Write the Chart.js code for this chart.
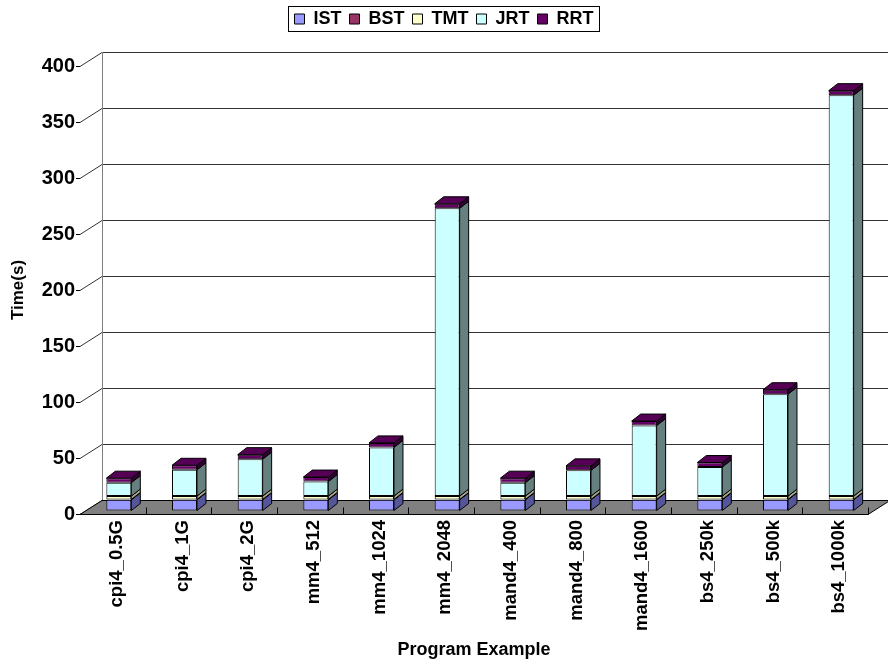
<!DOCTYPE html>
<html>
<head>
<meta charset="utf-8">
<script src="https://cdn.jsdelivr.net/npm/chart.js@4/dist/chart.umd.min.js"></script>
<style>
  html, body { margin: 0; padding: 0; background: #fff; }
  #wrap { width: 888px; height: 662px; }
</style>
</head>
<body>
<div id="wrap"><canvas id="chart"></canvas></div>
<script>
const programs = ['cpi4_0.5G', 'cpi4_1G', 'cpi4_2G', 'mm4_512', 'mm4_1024', 'mm4_2048',
  'mand4_400', 'mand4_800', 'mand4_1600', 'bs4_250k', 'bs4_500k', 'bs4_1000k'];
const istTimes = [10, 10, 10, 10, 10, 10, 10, 10, 10, 10, 10, 10];
const bstTimes = [0.3, 0.3, 0.3, 0.3, 0.3, 0.3, 0.3, 0.3, 0.3, 0.3, 0.3, 0.3];
const tmtTimes = [3, 3, 3, 3, 3, 3, 3, 3, 3, 3, 3, 3];
const jrtTimes = [12, 23.5, 33, 13, 43.5, 257, 12, 23, 63, 26, 91, 358];
const rrtTimes = [4, 4, 4, 4, 4, 4, 4, 4, 4, 4, 4, 4];
const yTicks = [0, 50, 100, 150, 200, 250, 300, 350, 400];

const FONT = '"Liberation Sans", Arial, sans-serif';

// 3d look: wall depth, where the bars sit in it and how deep they are
const depth = { dx: 22, dy: -14 };
const barShift = { dx: 6, dy: -3 };
const barDepth = { dx: 9, dy: -7 };

const series = [
  { label: 'IST', data: istTimes, color: '#9999FF', side: '#55559A' },
  { label: 'BST', data: bstTimes, color: '#993366', side: '#4D1A33' },
  { label: 'TMT', data: tmtTimes, color: '#FFFFCC', side: '#A8A888' },
  { label: 'JRT', data: jrtTimes, color: '#CCFFFF', side: '#668080' },
  { label: 'RRT', data: rrtTimes, color: '#660066', side: '#330033' },
];

const poly = (ctx, pts, fill, stroke) => {
  ctx.beginPath();
  ctx.moveTo(pts[0][0], pts[0][1]);
  for (let i = 1; i < pts.length; i++) ctx.lineTo(pts[i][0], pts[i][1]);
  ctx.closePath();
  if (fill) { ctx.fillStyle = fill; ctx.fill(); }
  if (stroke) { ctx.strokeStyle = stroke; ctx.lineWidth = 1; ctx.stroke(); }
};

// extra room under the legend, and centre it over the whole canvas
const legendPlace = {
  id: 'legendPlace',
  beforeInit(chart) {
    const fit = chart.legend.fit;
    chart.legend.fit = function () {
      fit.bind(chart.legend)();
      this.height += 28;
    };
  },
  afterLayout(chart) {
    chart.legend.left += 10;
    chart.legend.right += 10;
  }
};

const legendFrame = {
  id: 'legendFrame',
  afterDraw(chart) {
    const boxes = chart.legend.legendHitBoxes;
    if (!boxes || !boxes.length) return;
    const first = boxes[0];
    const last = boxes[boxes.length - 1];
    const ctx = chart.ctx;
    ctx.save();
    ctx.strokeStyle = '#000';
    ctx.lineWidth = 1;
    const l = Math.round(first.left - 7) + 0.5;
    const r = Math.round(last.left + last.width + 6) + 0.5;
    const t = Math.round(first.top - 4) + 0.5;
    const b = Math.round(first.top + first.height + 3) + 0.5;
    ctx.strokeRect(l, t, r - l, b - t);
    ctx.restore();
  }
};

const box3d = {
  id: 'box3d',
  beforeDatasetsDraw(chart) {
    const { ctx, chartArea: area, scales: { y } } = chart;
    const bottom = y.getPixelForValue(0);
    const top = y.getPixelForValue(400);
    ctx.save();
    // side wall and back wall
    poly(ctx, [[area.left, bottom], [area.left, top], [area.left + depth.dx, top + depth.dy],
      [area.left + depth.dx, bottom + depth.dy]], '#fff', null);
    ctx.strokeStyle = '#333';
    ctx.lineWidth = 1;
    yTicks.forEach(v => {
      const py = Math.round(y.getPixelForValue(v)) + 0.5;
      ctx.beginPath();
      ctx.moveTo(area.left, py);
      ctx.lineTo(area.left + depth.dx, py + depth.dy);
      ctx.lineTo(chart.width, py + depth.dy);
      ctx.stroke();
    });
    ctx.strokeStyle = '#808080';
    ctx.beginPath();
    ctx.moveTo(area.left + depth.dx + 0.5, top + depth.dy);
    ctx.lineTo(area.left + depth.dx + 0.5, bottom + depth.dy);
    ctx.stroke();
    // floor
    const fb = Math.round(bottom) + 0.5;
    poly(ctx, [[area.left, fb], [area.right, fb], [area.right + depth.dx, fb + depth.dy],
      [area.left + depth.dx, fb + depth.dy]], '#808080', '#000');
    // category tick marks on the floor edge
    ctx.strokeStyle = '#000';
    for (let i = 1; i <= programs.length; i++) {
      const px = Math.round(area.left + i * (area.right - area.left) / programs.length) + 0.5;
      ctx.beginPath();
      ctx.moveTo(px, fb);
      ctx.lineTo(px, fb - 7);
      ctx.stroke();
    }
    ctx.restore();
    // bars sit a little back from the front edge
    ctx.save();
    ctx.translate(barShift.dx, barShift.dy);
  },
  afterDatasetsDraw(chart) {
    const ctx = chart.ctx;
    const n = chart.data.datasets.length;
    programs.forEach((p, i) => {
      chart.data.datasets.forEach((ds, d) => {
        const el = chart.getDatasetMeta(d).data[i];
        const { x, y, base, width } = el.getProps(['x', 'y', 'base', 'width'], true);
        const l = x - width / 2;
        const r = x + width / 2;
        poly(ctx, [[r, y], [r + barDepth.dx, y + barDepth.dy], [r + barDepth.dx, base + barDepth.dy], [r, base]],
          series[d].side, '#000');
        if (d === n - 1) {
          poly(ctx, [[l, y], [l + barDepth.dx, y + barDepth.dy], [r + barDepth.dx, y + barDepth.dy], [r, y]],
            '#550055', '#000');
        }
      });
    });
    ctx.restore();
  }
};

new Chart(document.getElementById('chart'), {
  type: 'bar',
  data: {
    labels: programs,
    datasets: series.map(s => ({
      label: s.label,
      data: s.data,
      backgroundColor: s.color,
      borderColor: '#000',
      borderWidth: 1,
      borderSkipped: false,
      categoryPercentage: 1,
      barPercentage: 0.38,
      clip: false
    }))
  },
  options: {
    responsive: true,
    maintainAspectRatio: false,
    animation: false,
    events: [],
    layout: { padding: { left: 0, right: 20, top: 2, bottom: 0 } },
    plugins: {
      tooltip: { enabled: false },
      legend: {
        position: 'top',
        labels: {
          color: '#000',
          font: { family: FONT, size: 18, weight: 'bold' },
          boxWidth: 10,
          boxHeight: 10,
          padding: 8
        }
      }
    },
    scales: {
      x: {
        stacked: true,
        grid: { display: false, drawTicks: false },
        border: { display: false },
        ticks: {
          color: '#000',
          font: { family: FONT, size: 18.5, weight: 'bold' },
          minRotation: 90,
          maxRotation: 90,
          autoSkip: false,
          padding: 6,
          labelOffset: 4
        },
        title: {
          display: true,
          text: 'Program Example',
          color: '#000',
          font: { family: FONT, size: 18, weight: 'bold' },
          padding: { top: 0, bottom: 1 }
        },
        afterFit(scale) { scale.height = 148; }
      },
      y: {
        stacked: true,
        min: 0,
        max: 400,
        grid: { drawOnChartArea: false, tickLength: 4, color: '#000' },
        border: { color: '#000' },
        ticks: {
          stepSize: 50,
          color: '#000',
          font: { family: FONT, size: 20, weight: 'bold' },
          padding: 1
        },
        title: {
          display: true,
          text: 'Time(s)',
          color: '#000',
          font: { family: FONT, size: 17, weight: 'bold' },
          padding: { top: 8, bottom: 0 }
        },
        afterFit(scale) { scale.width = 80; }
      }
    }
  },
  plugins: [legendPlace, box3d, legendFrame]
});
</script>
</body>
</html>
